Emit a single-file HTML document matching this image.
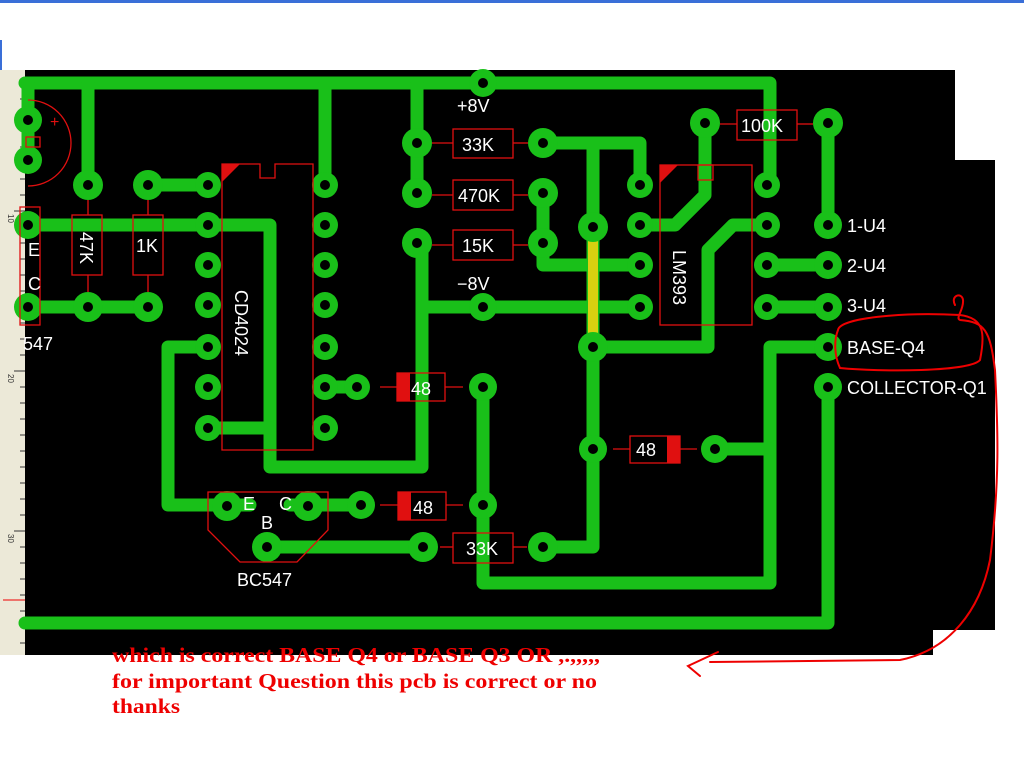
<!DOCTYPE html>
<html><head><meta charset="utf-8"><style>
html,body{margin:0;padding:0;background:#fff;width:1024px;height:768px;overflow:hidden}
svg{display:block}
</style></head><body>
<svg width="1024" height="768" viewBox="0 0 1024 768" xmlns="http://www.w3.org/2000/svg" font-family="Liberation Sans, sans-serif">
<rect x="0" y="0" width="1024" height="768" fill="#fff"/>
<rect x="0" y="0" width="1024" height="3" fill="#3a6fd8"/>
<rect x="0" y="40" width="2" height="30" fill="#3a6fd8"/>
<rect x="0" y="70" width="25" height="585" fill="#ece9d8"/>
<g stroke="#333" stroke-width="1">
<line x1="20" y1="83" x2="25" y2="83"/><line x1="20" y1="99" x2="25" y2="99"/><line x1="20" y1="115" x2="25" y2="115"/><line x1="20" y1="131" x2="25" y2="131"/><line x1="20" y1="147" x2="25" y2="147"/><line x1="20" y1="163" x2="25" y2="163"/><line x1="20" y1="179" x2="25" y2="179"/><line x1="20" y1="195" x2="25" y2="195"/><line x1="14" y1="211" x2="25" y2="211"/><line x1="20" y1="227" x2="25" y2="227"/><line x1="20" y1="243" x2="25" y2="243"/><line x1="20" y1="259" x2="25" y2="259"/><line x1="20" y1="275" x2="25" y2="275"/><line x1="20" y1="291" x2="25" y2="291"/><line x1="20" y1="307" x2="25" y2="307"/><line x1="20" y1="323" x2="25" y2="323"/><line x1="20" y1="339" x2="25" y2="339"/><line x1="20" y1="355" x2="25" y2="355"/><line x1="14" y1="371" x2="25" y2="371"/><line x1="20" y1="387" x2="25" y2="387"/><line x1="20" y1="403" x2="25" y2="403"/><line x1="20" y1="419" x2="25" y2="419"/><line x1="20" y1="435" x2="25" y2="435"/><line x1="20" y1="451" x2="25" y2="451"/><line x1="20" y1="467" x2="25" y2="467"/><line x1="20" y1="483" x2="25" y2="483"/><line x1="20" y1="499" x2="25" y2="499"/><line x1="20" y1="515" x2="25" y2="515"/><line x1="14" y1="531" x2="25" y2="531"/><line x1="20" y1="547" x2="25" y2="547"/><line x1="20" y1="563" x2="25" y2="563"/><line x1="20" y1="579" x2="25" y2="579"/><line x1="20" y1="595" x2="25" y2="595"/><line x1="20" y1="611" x2="25" y2="611"/><line x1="20" y1="627" x2="25" y2="627"/><line x1="20" y1="643" x2="25" y2="643"/>
</g>
<g font-size="8" fill="#333">
<text transform="translate(8,214) rotate(90)">10</text>
<text transform="translate(8,374) rotate(90)">20</text>
<text transform="translate(8,534) rotate(90)">30</text>
</g>
<line x1="3" y1="600" x2="25" y2="600" stroke="#e00" stroke-width="1"/>
<rect x="25" y="70" width="930" height="585" fill="#000"/>
<rect x="955" y="160" width="40" height="470" fill="#000"/>
<rect x="933" y="630" width="22" height="25" fill="#fff"/>
<g stroke="#19c019" stroke-width="13" fill="none" stroke-linejoin="round" stroke-linecap="round">
<polyline points="25,83 770,83 770,185"/>
<line x1="88" y1="83" x2="88" y2="185"/>
<line x1="325" y1="83" x2="325" y2="185"/>
<line x1="417" y1="83" x2="417" y2="193"/>
<line x1="28" y1="83" x2="28" y2="160"/>
<line x1="148" y1="185" x2="208" y2="185"/>
<polyline points="25,225 270,225 270,467 422,467 422,243"/>
<line x1="208" y1="428" x2="270" y2="428"/>
<line x1="25" y1="307" x2="148" y2="307"/>
<line x1="422" y1="307" x2="640" y2="307"/>
<polyline points="208,347 168,347 168,505 250,505"/>
<line x1="325" y1="387" x2="357" y2="387"/>
<line x1="290" y1="505" x2="361" y2="505"/>
<polyline points="483,387 483,583 770,583 770,347 828,347"/>
<line x1="715" y1="449" x2="770" y2="449"/>
<polyline points="828,387 828,623 25,623"/>
<line x1="268" y1="547" x2="423" y2="547"/>
<polyline points="543,547 593,547 593,143"/>
<polyline points="543,143 640,143 640,185"/>
<polyline points="543,193 543,265 640,265"/>
<polyline points="640,225 675,225 705,195 705,123"/>
<polyline points="767,225 733,225 708,250 708,347 593,347"/>
<line x1="828" y1="123" x2="828" y2="225"/>
<line x1="767" y1="265" x2="828" y2="265"/>
<line x1="767" y1="307" x2="828" y2="307"/>
</g>
<line x1="593" y1="227" x2="593" y2="347" stroke="#d8d010" stroke-width="10" stroke-linecap="round"/>
<g fill="#19c019">
<circle cx="28" cy="120" r="14"/><circle cx="28" cy="160" r="14"/><circle cx="28" cy="225" r="14"/><circle cx="28" cy="307" r="14"/>
<circle cx="88" cy="185" r="15"/><circle cx="148" cy="185" r="15"/><circle cx="88" cy="307" r="15"/><circle cx="148" cy="307" r="15"/>
<circle cx="208" cy="185" r="13"/><circle cx="208" cy="225" r="13"/><circle cx="208" cy="265" r="13"/><circle cx="208" cy="305" r="13"/><circle cx="208" cy="347" r="13"/><circle cx="208" cy="387" r="13"/><circle cx="208" cy="428" r="13"/>
<circle cx="325" cy="185" r="13"/><circle cx="325" cy="225" r="13"/><circle cx="325" cy="265" r="13"/><circle cx="325" cy="305" r="13"/><circle cx="325" cy="347" r="13"/><circle cx="325" cy="387" r="13"/><circle cx="325" cy="428" r="13"/>
<circle cx="357" cy="387" r="13"/><circle cx="483" cy="387" r="14"/>
<circle cx="483" cy="83" r="14"/><circle cx="483" cy="307" r="14"/>
<circle cx="417" cy="143" r="15"/><circle cx="417" cy="193" r="15"/><circle cx="417" cy="243" r="15"/>
<circle cx="543" cy="143" r="15"/><circle cx="543" cy="193" r="15"/><circle cx="543" cy="243" r="15"/>
<circle cx="593" cy="227" r="15"/><circle cx="593" cy="347" r="15"/><circle cx="593" cy="449" r="14"/>
<circle cx="640" cy="185" r="13"/><circle cx="640" cy="225" r="13"/><circle cx="640" cy="265" r="13"/><circle cx="640" cy="307" r="13"/>
<circle cx="767" cy="185" r="13"/><circle cx="767" cy="225" r="13"/><circle cx="767" cy="265" r="13"/><circle cx="767" cy="307" r="13"/>
<circle cx="705" cy="123" r="15"/><circle cx="828" cy="123" r="15"/>
<circle cx="828" cy="225" r="14"/><circle cx="828" cy="265" r="14"/><circle cx="828" cy="307" r="14"/><circle cx="828" cy="347" r="14"/><circle cx="828" cy="387" r="14"/>
<circle cx="715" cy="449" r="14"/>
<circle cx="227" cy="506" r="15"/><circle cx="308" cy="506" r="15"/><circle cx="267" cy="547" r="15"/>
<circle cx="361" cy="505" r="14"/><circle cx="483" cy="505" r="14"/>
<circle cx="423" cy="547" r="15"/><circle cx="543" cy="547" r="15"/>
</g>
<g fill="#000">
<circle cx="28" cy="120" r="5"/><circle cx="28" cy="160" r="5"/><circle cx="28" cy="225" r="5"/><circle cx="28" cy="307" r="5"/>
<circle cx="88" cy="185" r="5"/><circle cx="148" cy="185" r="5"/><circle cx="88" cy="307" r="5"/><circle cx="148" cy="307" r="5"/>
<circle cx="208" cy="185" r="5"/><circle cx="208" cy="225" r="5"/><circle cx="208" cy="265" r="5"/><circle cx="208" cy="305" r="5"/><circle cx="208" cy="347" r="5"/><circle cx="208" cy="387" r="5"/><circle cx="208" cy="428" r="5"/>
<circle cx="325" cy="185" r="5"/><circle cx="325" cy="225" r="5"/><circle cx="325" cy="265" r="5"/><circle cx="325" cy="305" r="5"/><circle cx="325" cy="347" r="5"/><circle cx="325" cy="387" r="5"/><circle cx="325" cy="428" r="5"/>
<circle cx="357" cy="387" r="5"/><circle cx="483" cy="387" r="5"/>
<circle cx="483" cy="83" r="5"/><circle cx="483" cy="307" r="5"/>
<circle cx="417" cy="143" r="5"/><circle cx="417" cy="193" r="5"/><circle cx="417" cy="243" r="5"/>
<circle cx="543" cy="143" r="5"/><circle cx="543" cy="193" r="5"/><circle cx="543" cy="243" r="5"/>
<circle cx="593" cy="227" r="5"/><circle cx="593" cy="347" r="5"/><circle cx="593" cy="449" r="5"/>
<circle cx="640" cy="185" r="5"/><circle cx="640" cy="225" r="5"/><circle cx="640" cy="265" r="5"/><circle cx="640" cy="307" r="5"/>
<circle cx="767" cy="185" r="5"/><circle cx="767" cy="225" r="5"/><circle cx="767" cy="265" r="5"/><circle cx="767" cy="307" r="5"/>
<circle cx="705" cy="123" r="5"/><circle cx="828" cy="123" r="5"/>
<circle cx="828" cy="225" r="5"/><circle cx="828" cy="265" r="5"/><circle cx="828" cy="307" r="5"/><circle cx="828" cy="347" r="5"/><circle cx="828" cy="387" r="5"/>
<circle cx="715" cy="449" r="5"/>
<circle cx="227" cy="506" r="5"/><circle cx="308" cy="506" r="5"/><circle cx="267" cy="547" r="5"/>
<circle cx="361" cy="505" r="5"/><circle cx="483" cy="505" r="5"/>
<circle cx="423" cy="547" r="5"/><circle cx="543" cy="547" r="5"/>
</g>
<g stroke="#e01010" stroke-width="1.3" fill="none">
<path d="M28,100 A43,43 0 0 1 28,186"/>
<rect x="26" y="137" width="14" height="10"/>
<rect x="20" y="207" width="20" height="118"/>
<rect x="72" y="215" width="30" height="60"/><line x1="88" y1="200" x2="88" y2="215"/><line x1="88" y1="275" x2="88" y2="292"/>
<rect x="133" y="215" width="30" height="60"/><line x1="148" y1="200" x2="148" y2="215"/><line x1="148" y1="275" x2="148" y2="292"/>
<path d="M222,164 H260 V178 H275 V164 H313 V450 H222 Z"/>
<rect x="453" y="129" width="60" height="29"/><line x1="432" y1="143" x2="453" y2="143"/><line x1="513" y1="143" x2="528" y2="143"/>
<rect x="453" y="180" width="60" height="30"/><line x1="432" y1="195" x2="453" y2="195"/><line x1="513" y1="195" x2="528" y2="195"/>
<rect x="453" y="230" width="60" height="30"/><line x1="432" y1="245" x2="453" y2="245"/><line x1="513" y1="245" x2="528" y2="245"/>
<rect x="737" y="110" width="60" height="30"/><line x1="720" y1="124" x2="737" y2="124"/><line x1="797" y1="124" x2="813" y2="124"/>
<rect x="660" y="165" width="92" height="160"/><rect x="698" y="165" width="15" height="15"/>
<rect x="397" y="373" width="48" height="28"/><line x1="380" y1="387" x2="397" y2="387"/><line x1="445" y1="387" x2="463" y2="387"/>
<rect x="398" y="492" width="48" height="28"/><line x1="380" y1="505" x2="398" y2="505"/><line x1="446" y1="505" x2="463" y2="505"/>
<rect x="630" y="436" width="50" height="27"/><line x1="613" y1="449" x2="630" y2="449"/><line x1="680" y1="449" x2="697" y2="449"/>
<rect x="453" y="533" width="60" height="30"/><line x1="440" y1="547" x2="453" y2="547"/><line x1="513" y1="547" x2="527" y2="547"/>
<polygon points="208,492 328,492 328,530 297,562 240,562 208,530"/>
</g>
<g fill="#e01010">
<polygon points="222,164 240,164 222,182"/>
<polygon points="660,165 678,165 660,183"/>
<rect x="397" y="373" width="13" height="28"/>
<rect x="398" y="492" width="13" height="28"/>
<rect x="667" y="436" width="13" height="27"/>
</g>
<text x="50" y="127" fill="#e01010" font-size="16">+</text>
<g fill="#fff" font-size="18">
<text x="457" y="112">+8V</text>
<text x="457" y="290">−8V</text>
<text x="462" y="151">33K</text>
<text x="458" y="202">470K</text>
<text x="462" y="252">15K</text>
<text x="741" y="132">100K</text>
<text x="411" y="395">48</text>
<text x="413" y="514">48</text>
<text x="636" y="456">48</text>
<text x="466" y="555">33K</text>
<text x="28" y="256">E</text>
<text x="28" y="290">C</text>
<text x="23" y="350">547</text>
<text x="243" y="510">E</text>
<text x="279" y="510">C</text>
<text x="261" y="529">B</text>
<text x="237" y="586">BC547</text>
<text x="847" y="232">1-U4</text>
<text x="847" y="272">2-U4</text>
<text x="847" y="312">3-U4</text>
<text x="847" y="354">BASE-Q4</text>
<text x="847" y="394">COLLECTOR-Q1</text>
<text transform="translate(80,232) rotate(90)">47K</text>
<text x="136" y="252">1K</text>
<text transform="translate(235,290) rotate(90)">CD4024</text>
<text transform="translate(673,250) rotate(90)">LM393</text>
</g>
<g stroke="#e00" stroke-width="2" fill="none" stroke-linecap="round">
<path d="M838,330 C840,318 900,312 960,315 C985,318 985,335 980,360 C970,372 880,372 840,368 C834,355 834,340 838,330"/>
<path d="M955,305 C950,295 962,292 963,300 C964,310 955,318 960,320 C985,322 990,330 995,370 C998,430 1000,480 990,560 C980,610 950,650 900,660 L710,662"/>
<path d="M718,652 L688,666 L700,676"/>
</g>
<g fill="#e00" font-family="Liberation Serif, serif" font-weight="bold" font-size="21">
<text x="112" y="662" textLength="488" lengthAdjust="spacingAndGlyphs">which is correct BASE Q4 or BASE Q3 OR ,.,,,,,</text>
<text x="112" y="688" textLength="485" lengthAdjust="spacingAndGlyphs">for important Question this pcb is correct or no</text>
<text x="112" y="713" textLength="68" lengthAdjust="spacingAndGlyphs">thanks</text>
</g>
</svg>
</body></html>
